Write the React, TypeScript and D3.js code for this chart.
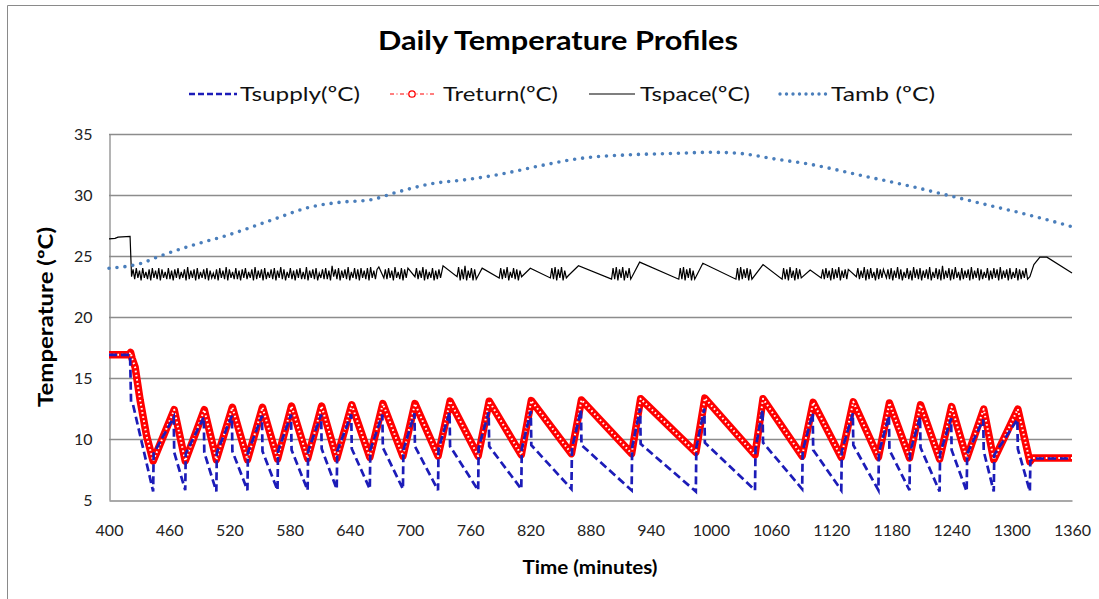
import { useEffect, useRef } from "react";
import * as d3 from "d3";

type Pt = [number, number];

const xTicks = [400, 460, 520, 580, 640, 700, 760, 820, 880, 940, 1000, 1060, 1120, 1180, 1240, 1300, 1360];
const yTicks = [5, 10, 15, 20, 25, 30, 35];

const legendNames = ["Tsupply(ºC)", "Treturn(ºC)", "Tspace(ºC)", "Tamb (ºC)"];

// Tsupply: vertices (minutes, ºC)
const tsupply: Pt[] = [
  [400, 16.9], [421, 16.9], [422, 13.0], [424, 12.8], [444, 5.7],
  [444.5, 8.8], [464.5, 11.8], [465, 8.9], [476, 5.8],
  [476.5, 8.8], [494.5, 11.8], [495, 8.9], [507, 5.7],
  [507.5, 8.9], [522.5, 11.9], [523, 9.0], [538, 5.8],
  [538.5, 8.9], [552.5, 11.9], [553, 9.0], [568, 5.8],
  [568.5, 9.0], [581.5, 12.0], [582, 9.1], [598, 5.8],
  [598.5, 9.0], [611.5, 12.0], [612, 9.2], [627, 5.9],
  [627.5, 9.0], [641.5, 12.0], [642, 9.2], [660, 5.9],
  [660.5, 9.1], [672.5, 12.0], [673, 9.3], [693, 5.9],
  [693.5, 9.1], [704.5, 12.1], [705, 9.4], [728, 5.8],
  [728.5, 9.2], [739.5, 12.2], [740, 9.4], [768, 5.8],
  [768.5, 9.3], [778.5, 12.2], [779, 9.4], [811, 5.9],
  [811.5, 9.2], [820.5, 12.3], [821, 9.5], [861, 5.9],
  [861.5, 9.2], [870.5, 12.4], [871, 9.5], [921, 5.8],
  [921.5, 9.3], [929.5, 12.5], [930, 9.6], [985, 5.7],
  [985.5, 9.3], [993.5, 12.5], [994, 9.7], [1044, 5.8],
  [1044.5, 9.2], [1051.5, 12.4], [1052, 9.7], [1091, 5.9],
  [1091.5, 9.0], [1101.5, 12.1], [1102, 9.1], [1130, 5.8],
  [1130.5, 9.0], [1141.5, 12.1], [1142, 9.5], [1167, 5.8],
  [1167.5, 8.9], [1177.5, 11.9], [1178, 9.1], [1198, 5.8],
  [1198.5, 8.9], [1208.5, 11.8], [1209, 9.3], [1228, 5.7],
  [1228.5, 8.8], [1239.5, 11.7], [1240, 9.1], [1255, 5.7],
  [1255.5, 8.8], [1271.5, 11.6], [1272, 9.0], [1282, 5.7],
  [1282.5, 8.7], [1305.5, 11.6], [1306, 9.2], [1318, 5.7],
  [1318.5, 8.2], [1322, 8.4], [1360, 8.4],
];

// Treturn: turning points
const treturn: Pt[] = [
  [400, 16.9], [420, 16.9], [421.5, 17.1], [423, 16.6], [426, 15.9], [431, 13.2], [437.6, 10.2], [444, 8.2],
  [465, 12.4], [476, 8.2], [495, 12.4], [507, 8.3], [523, 12.6], [538, 8.3], [553, 12.6], [568, 8.35],
  [582, 12.7], [598, 8.4], [612, 12.7], [627, 8.4], [642, 12.8], [660, 8.5], [673, 12.9], [693, 8.6],
  [705, 12.9], [728, 8.6], [740, 13.1], [768, 8.6], [779, 13.1], [811, 8.7], [821, 13.15], [861, 8.8],
  [871, 13.2], [921, 8.8], [930, 13.3], [985, 8.9], [994, 13.35], [1044, 8.7], [1052, 13.3], [1091, 8.6],
  [1102, 13.0], [1130, 8.5], [1142, 13.05], [1167, 8.5], [1178, 12.95], [1198, 8.45], [1209, 12.8],
  [1228, 8.35], [1240, 12.65], [1255, 8.4], [1272, 12.45], [1282, 8.3], [1306, 12.45], [1318, 8.15],
  [1321, 8.45], [1360, 8.45],
];

// Tamb: smooth outdoor curve
const tamb: Pt[] = [
  [400, 24.0], [432, 24.4], [451, 25.0], [484, 25.9], [518, 26.7], [564, 28.0], [600, 29.0], [630, 29.4],
  [660, 29.6], [690, 30.3], [720, 30.9], [760, 31.3], [790, 31.7], [830, 32.4], [870, 33.0], [920, 33.3],
  [960, 33.4], [1000, 33.5], [1030, 33.4], [1060, 33.0], [1100, 32.5], [1150, 31.6], [1200, 30.7],
  [1230, 30.1], [1280, 29.1], [1320, 28.3], [1360, 27.4],
];

// Tspace: slow pieces between the thermostat bursts
const tspaceLinks: Pt[] = [
  [400, 26.4], [406, 26.45], [409, 26.55], [421, 26.6], [422.5, 23.3],
  [669, 24.1], [674, 23.2], [698, 24.0], [705, 23.3], [733, 24.2], [747, 23.3],
  [772, 24.0], [789, 23.2], [820, 24.0], [840, 23.2], [858, 23.4], [868, 24.2], [901, 23.1],
  [929, 24.5], [968, 23.1], [992, 24.4], [1025, 23.1], [1052, 24.3], [1071, 23.1],
  [1099, 23.85], [1110, 23.2], [1137, 23.9], [1145, 23.3], [1172, 23.9], [1175, 23.2],
  [1318, 23.3], [1322, 24.3], [1328, 24.9], [1335, 24.9], [1360, 23.6],
];

const TSPACE_STEP = 1.6;
const burstA = [
  23.9, 23.1, 24.0, 23.2, 23.8, 23.0, 24.0, 23.2, 23.7, 23.1, 23.9, 23.0, 24.0, 23.2, 23.8, 23.1, 24.0, 23.0, 23.9, 23.2,
  23.7, 23.1, 24.0, 23.1, 23.8, 23.0, 23.9, 23.2, 24.0, 23.1, 23.7, 23.2, 23.9, 23.0, 24.1, 23.1, 23.8, 23.2, 23.9, 23.0,
  24.0, 23.1, 23.7, 23.2, 23.9, 23.1, 24.0, 23.0, 23.8, 23.2, 23.6, 23.1, 23.9, 23.0, 24.0, 23.2, 23.8, 23.1, 24.1, 23.0,
  23.9, 23.2, 23.7, 23.1, 24.0, 23.1, 23.8, 23.0, 23.9, 23.2, 24.0, 23.1, 23.7, 23.2, 23.9, 23.0, 24.1, 23.1, 23.8, 23.2,
  23.9, 23.0, 24.0, 23.1, 23.7, 23.2, 23.9, 23.1, 24.0, 23.0, 23.8, 23.2, 24.1, 23.1, 23.9, 23.0, 23.7, 23.2, 24.0, 23.1,
  23.8, 23.0, 23.9, 23.2, 24.0, 23.1, 23.7, 23.1, 24.1, 23.0, 23.8, 23.2, 23.9, 23.1, 24.0, 23.0, 23.6, 23.2, 23.9, 23.1,
  24.0, 23.1, 23.8, 23.0, 24.2, 23.3, 23.9, 23.1, 24.0, 23.0, 23.8, 23.2, 23.9, 23.1, 24.1, 23.0, 23.7, 23.2, 24.0, 23.1,
  23.9, 23.0, 24.0, 23.2, 23.8, 23.1, 24.0, 23.0, 24.1, 23.2, 23.8, 23.1, 23.9,
];
const burstB = [23.9, 23.1, 24.0, 23.2, 23.8, 23.0, 24.1, 23.2, 23.7, 23.1, 24.0, 23.0, 23.9, 23.2];
const burstC = [24.0, 23.1, 23.8, 23.2, 24.1, 23.0, 23.9, 23.1, 23.7, 23.2, 24.0, 23.0, 23.8, 23.1, 23.9, 23.2];
const burstD = [24.1, 23.0, 23.9, 23.1, 24.2, 23.0, 23.8, 23.2, 24.0, 23.0, 23.9, 23.1];
const burstE = [24.0, 23.1, 23.9, 23.2, 24.1, 23.0, 23.7, 23.2, 24.0, 23.1, 23.9, 23.0, 23.8, 23.3];
const burstF = [24.0, 23.1, 24.1, 23.0, 23.9, 23.2, 24.1, 23.0, 23.8, 23.2];
const burstG = [24.0, 23.1, 24.1, 23.0, 23.9, 23.2, 24.1, 23.0, 23.8, 23.2, 24.0, 23.1];
const burstH = [24.0, 23.1, 24.1, 23.0, 23.9, 23.2, 24.0, 23.0, 23.8, 23.1];
const burstI = [24.0, 23.0, 24.1, 23.1, 23.9, 23.2, 24.0, 23.0, 23.9, 23.1];
const burstJ = [24.0, 23.1, 23.9, 23.0, 24.1, 23.2, 23.8, 23.0, 24.0, 23.1, 23.9, 23.2];
const burstK = [23.9, 23.1, 24.0, 23.2, 23.8, 23.0, 24.0, 23.1, 23.9, 23.2, 24.1, 23.0, 23.8, 23.2, 23.9, 23.1];
const burstL = [24.0, 23.1, 23.8, 23.2, 24.1, 23.0, 23.9, 23.1, 24.0, 23.2, 23.7, 23.0, 24.0, 23.1, 23.9, 23.2];
const burstM = [
  23.9, 23.1, 24.0, 23.0, 23.8, 23.2, 24.1, 23.1, 23.9, 23.0, 23.7, 23.2, 24.0, 23.1, 23.8, 23.0, 24.1, 23.2, 23.9, 23.1, 24.0, 23.0,
  23.8, 23.2, 23.9, 23.1, 24.1, 23.0, 23.7, 23.2, 24.0, 23.1, 23.9, 23.0, 24.2, 23.1, 23.8, 23.2, 24.0, 23.0, 23.9, 23.1, 24.1, 23.2,
  23.7, 23.0, 24.0, 23.1, 23.8, 23.2, 23.9, 23.0, 24.1, 23.1, 23.8, 23.2, 24.0, 23.0, 23.9, 23.1, 23.7, 23.2, 24.0, 23.0, 23.8, 23.1,
  24.0, 23.2, 23.9, 23.0, 24.1, 23.1, 23.8, 23.2, 23.9, 23.0, 24.0, 23.1, 23.7, 23.2, 24.0, 23.0, 23.9, 23.1, 23.8, 23.2, 24.0, 23.1,
];
// start minute of each burst
const tspaceBursts: [number, number[]][] = [
  [424, burstA], [675.5, burstB], [706.5, burstC], [748.5, burstD], [790.5, burstE], [841.5, burstF],
  [902.5, burstG], [969.5, burstH], [1026.5, burstI], [1072.5, burstJ], [1111.5, burstK], [1146.5, burstL],
  [1176.5, burstM],
];

const FONT = "Lato, 'Open Sans', sans-serif";
const BLUE = "#1c1cb8";
const RED = "#ff0000";
const AMB = "#4a7ebb";
const GRID = "#8c8c8c";

const Chart = () => {
  const ref = useRef<SVGSVGElement | null>(null);

  useEffect(() => {
    if (!ref.current) return;
    const svg = d3.select(ref.current);
    svg.selectAll("*").remove();

    const x = d3.scaleLinear().domain([400, 1360]).range([109, 1072]);
    const y = d3.scaleLinear().domain([5, 35]).range([500, 134]);

    // marco exterior
    svg.append("path")
      .attr("d", "M7.5,700 V5.5 H1200")
      .attr("fill", "none")
      .attr("stroke", "#8a8a8a")
      .attr("stroke-width", 1);

    // titulo
    svg.append("text")
      .attr("x", 558)
      .attr("y", 50)
      .attr("text-anchor", "middle")
      .attr("textLength", 360)
      .attr("lengthAdjust", "spacingAndGlyphs")
      .style("font-family", FONT)
      .style("font-size", "26px")
      .style("font-weight", "700")
      .text("Daily Temperature Profiles");

    // grid
    svg.append("g")
      .selectAll("line")
      .data(yTicks.filter((d) => d > 5))
      .enter()
      .append("line")
      .attr("x1", 109)
      .attr("x2", 1072)
      .attr("y1", (d) => Math.round(y(d)) + 0.5)
      .attr("y2", (d) => Math.round(y(d)) + 0.5)
      .attr("stroke", GRID)
      .attr("stroke-width", 1.3);

    // ejes
    const yAxis = svg.append("g")
      .attr("transform", "translate(109.5,0)")
      .call(d3.axisLeft(y).tickValues(yTicks).tickSize(0).tickPadding(17));
    yAxis.select("path").attr("stroke", GRID).attr("stroke-width", 1.3);
    yAxis.selectAll("text")
      .style("font-family", FONT)
      .style("font-size", "16px")
      .style("fill", "#222");

    const xAxis = svg.append("g")
      .attr("transform", "translate(0,500.5)")
      .call(d3.axisBottom(x).tickValues(xTicks).tickSize(0).tickPadding(24).tickFormat(d3.format("d")));
    xAxis.select("path").attr("stroke", GRID).attr("stroke-width", 1.3);
    xAxis.selectAll("text")
      .style("font-family", FONT)
      .style("font-size", "16px")
      .style("fill", "#222");

    // titulos de ejes
    svg.append("text")
      .attr("x", 590)
      .attr("y", 574)
      .attr("text-anchor", "middle")
      .attr("textLength", 135)
      .attr("lengthAdjust", "spacingAndGlyphs")
      .style("font-family", FONT)
      .style("font-size", "18px")
      .style("font-weight", "700")
      .text("Time (minutes)");

    svg.append("text")
      .attr("transform", "translate(53,317) rotate(-90)")
      .attr("text-anchor", "middle")
      .attr("textLength", 180)
      .attr("lengthAdjust", "spacingAndGlyphs")
      .style("font-family", FONT)
      .style("font-size", "21px")
      .style("font-weight", "700")
      .text("Temperature (ºC)");

    const line = d3.line<Pt>().x((d) => x(d[0])).y((d) => y(d[1]));
    const smooth = d3.line<Pt>().x((d) => x(d[0])).y((d) => y(d[1])).curve(d3.curveMonotoneX);

    // Treturn: marcadores huecos muy juntos -> banda roja con huecos blancos
    svg.append("path")
      .datum(treturn)
      .attr("d", line)
      .attr("fill", "none")
      .attr("stroke", RED)
      .attr("stroke-width", 7.5)
      .attr("stroke-linejoin", "round");
    svg.append("path")
      .datum(treturn)
      .attr("d", line)
      .attr("fill", "none")
      .attr("stroke", "#fff")
      .attr("stroke-width", 2)
      .attr("stroke-dasharray", "1.6,2.6")
      .attr("stroke-linejoin", "round");

    // Tsupply
    svg.append("path")
      .datum(tsupply)
      .attr("d", line)
      .attr("fill", "none")
      .attr("stroke", BLUE)
      .attr("stroke-width", 2.7)
      .attr("stroke-dasharray", "8,4");

    // Tspace
    const tspace: Pt[] = [...tspaceLinks];
    tspaceBursts.forEach(([t0, vals]) => {
      vals.forEach((v, i) => tspace.push([t0 + i * TSPACE_STEP, v]));
    });
    tspace.sort((a, b) => a[0] - b[0]);
    svg.append("path")
      .datum(tspace)
      .attr("d", line)
      .attr("fill", "none")
      .attr("stroke", "#000")
      .attr("stroke-width", 1.2);

    // Tamb
    svg.append("path")
      .datum(tamb)
      .attr("d", smooth)
      .attr("fill", "none")
      .attr("stroke", AMB)
      .attr("stroke-width", 3.6)
      .attr("stroke-linecap", "round")
      .attr("stroke-dasharray", "0,8");

    // leyenda
    const ly = 94;
    const leg = svg.append("g");
    const items = [
      { x1: 189, x2: 237, tx: 240, w: 120 },
      { x1: 390, x2: 434, tx: 443, w: 115 },
      { x1: 589, x2: 635, tx: 640, w: 110 },
      { x1: 780, x2: 826, tx: 831, w: 104 },
    ];
    items.forEach((it, i) => {
      const l = leg.append("line")
        .attr("x1", it.x1).attr("x2", it.x2)
        .attr("y1", ly).attr("y2", ly)
        .attr("fill", "none");
      if (i === 0) l.attr("stroke", BLUE).attr("stroke-width", 2.7).attr("stroke-dasharray", "6,3");
      if (i === 1) l.attr("stroke", RED).attr("stroke-width", 1.2).attr("stroke-dasharray", "4,2.5,1,2.5");
      if (i === 2) l.attr("stroke", "#000").attr("stroke-width", 1.2);
      if (i === 3) l.attr("stroke", AMB).attr("stroke-width", 3.4).attr("stroke-linecap", "round").attr("stroke-dasharray", "0,6.5");
      if (i === 1) {
        leg.append("circle")
          .attr("cx", (it.x1 + it.x2) / 2)
          .attr("cy", ly)
          .attr("r", 3.2)
          .attr("fill", "#fff")
          .attr("stroke", RED)
          .attr("stroke-width", 1.3);
      }
      leg.append("text")
        .attr("x", it.tx)
        .attr("y", 101)
        .attr("textLength", it.w)
        .attr("lengthAdjust", "spacingAndGlyphs")
        .style("font-family", FONT)
        .style("font-size", "20px")
        .style("fill", "#111")
        .text(legendNames[i]);
    });
  }, []);

  return (
    <svg
      ref={ref}
      width={1099}
      height={599}
      style={{ position: "absolute", left: 0, top: 0, background: "#fff" }}
    />
  );
};

export default function App() {
  return <Chart />;
}
